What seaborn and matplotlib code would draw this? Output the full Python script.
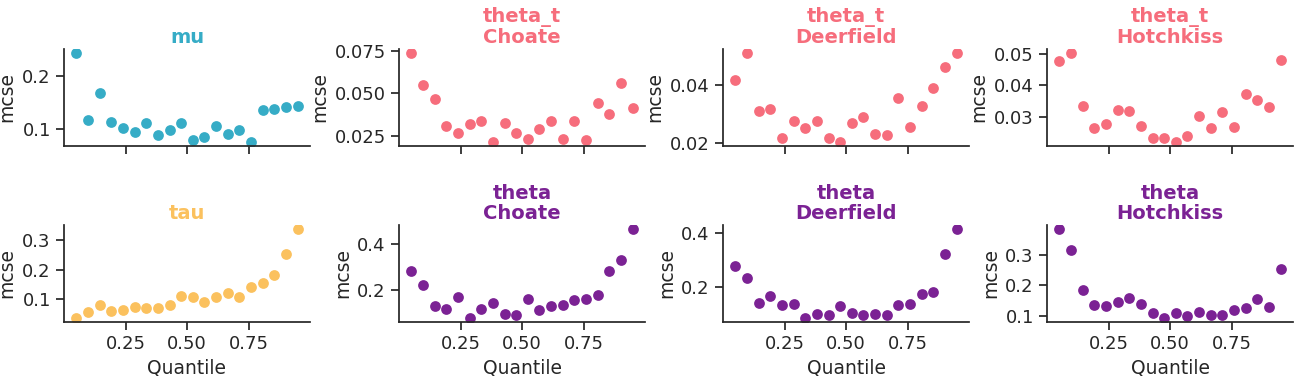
import numpy as np
import pandas as pd
import matplotlib
matplotlib.use("Agg")
import matplotlib.pyplot as plt
import seaborn as sns

# quantile grid (20 points, 0.05 .. 0.95)
quantiles = [0.05, 0.097, 0.145, 0.192, 0.239, 0.287, 0.334, 0.382, 0.429, 0.476,
             0.524, 0.571, 0.618, 0.666, 0.713, 0.761, 0.808, 0.855, 0.903, 0.95]

mcse_mu = [0.244, 0.117, 0.169, 0.113, 0.102, 0.094, 0.110, 0.087, 0.097, 0.110,
           0.079, 0.083, 0.104, 0.090, 0.098, 0.075, 0.135, 0.137, 0.142, 0.144]
mcse_theta_t_choate = [0.0735, 0.0548, 0.0464, 0.0306, 0.0264, 0.0319, 0.0339, 0.0215, 0.0325, 0.0264,
                       0.0232, 0.0290, 0.0339, 0.0232, 0.0339, 0.0224, 0.0440, 0.0379, 0.0558, 0.0415]
mcse_theta_t_deerfield = [0.0417, 0.0507, 0.0310, 0.0317, 0.0218, 0.0276, 0.0252, 0.0277, 0.0218, 0.0205,
                          0.0269, 0.0290, 0.0231, 0.0228, 0.0355, 0.0255, 0.0328, 0.0390, 0.0459, 0.0507]
mcse_theta_t_hotchkiss = [0.0477, 0.0502, 0.0333, 0.0263, 0.0276, 0.0322, 0.0320, 0.0272, 0.0232, 0.0232,
                          0.0221, 0.0240, 0.0303, 0.0263, 0.0314, 0.0269, 0.0374, 0.0352, 0.0330, 0.0480]
mcse_tau = [0.0356, 0.0552, 0.0793, 0.0586, 0.0632, 0.0724, 0.0690, 0.0690, 0.0793, 0.110,
            0.107, 0.0897, 0.107, 0.121, 0.107, 0.141, 0.155, 0.183, 0.252, 0.338]
mcse_theta_choate = [0.283, 0.222, 0.130, 0.117, 0.170, 0.080, 0.117, 0.143, 0.096, 0.091,
                     0.161, 0.113, 0.130, 0.135, 0.157, 0.161, 0.178, 0.283, 0.330, 0.461]
mcse_theta_deerfield = [0.281, 0.236, 0.143, 0.169, 0.135, 0.139, 0.088, 0.102, 0.098, 0.132,
                        0.106, 0.098, 0.102, 0.098, 0.135, 0.139, 0.176, 0.184, 0.325, 0.415]
mcse_theta_hotchkiss = [0.382, 0.316, 0.185, 0.136, 0.133, 0.146, 0.159, 0.139, 0.110, 0.0945,
                        0.110, 0.100, 0.113, 0.103, 0.103, 0.120, 0.126, 0.156, 0.130, 0.254]

titles = ["mu", "theta_t\nChoate", "theta_t\nDeerfield", "theta_t\nHotchkiss",
          "tau", "theta\nChoate", "theta\nDeerfield", "theta\nHotchkiss"]
series = [mcse_mu, mcse_theta_t_choate, mcse_theta_t_deerfield, mcse_theta_t_hotchkiss,
          mcse_tau, mcse_theta_choate, mcse_theta_deerfield, mcse_theta_hotchkiss]

col_mu = "#36acc6"
col_theta_t = "#f66d7c"
col_tau = "#fbc15e"
col_theta = "#7b2294"
colors = [col_mu, col_theta_t, col_theta_t, col_theta_t,
          col_tau, col_theta, col_theta, col_theta]

sns.set_theme(style="ticks")
plt.rcParams['font.family'] = ['DejaVu Sans']

W, H = 1295, 376
fig, axes = plt.subplots(2, 4, figsize=(W / 100, H / 100), dpi=100, sharex=True)

# axes boxes measured in pixels (left, top, right, bottom)
lefts = [64, 399, 723, 1047]
rows = [(49, 146), (225, 322)]
width = 246

for i, ax in enumerate(axes.flat):
    r, c = divmod(i, 4)
    top, bot = rows[r]
    ax.set_position([lefts[c] / W, 1 - bot / H, width / W, (bot - top) / H])

    df = pd.DataFrame({"Quantile": quantiles, "mcse": series[i]})
    sns.scatterplot(data=df, x="Quantile", y="mcse", ax=ax, color=colors[i],
                    s=60, linewidth=0)
    ax.set_title(titles[i], color=colors[i], fontsize=14, fontweight="bold",
                 linespacing=1.1, pad=4)
    ax.set_xlabel("Quantile", fontsize=13.5)
    ax.set_ylabel("mcse", fontsize=13.5)
    ax.tick_params(labelsize=13, colors="0.15")
    ax.set_xlim(0, 1)
    ax.set_xticks([0.25, 0.5, 0.75])
    sns.despine(ax=ax)

axes[0, 1].yaxis.set_major_locator(matplotlib.ticker.FixedLocator([0.025, 0.05, 0.075]))
axes[0, 1].yaxis.set_major_formatter(matplotlib.ticker.FormatStrFormatter("%.3f"))

fig.savefig("out.png", dpi=100)
